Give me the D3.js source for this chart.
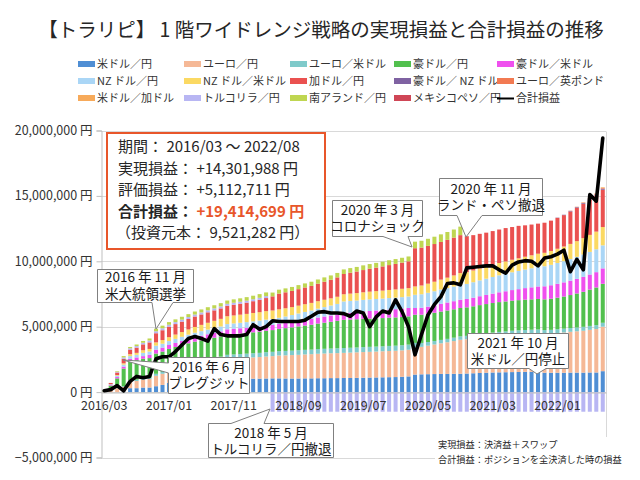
<!DOCTYPE html>
<html><head><meta charset="utf-8">
<script src="https://cdn.jsdelivr.net/npm/d3@7"></script>
<style>
body{margin:0;background:#fff}
svg{display:block}
text{font-family:"Noto Sans CJK JP","Noto Sans",sans-serif}
</style>
</head><body>
<svg id="chart" width="640" height="480"></svg>
<script>
// ---- DATA (values in 万円 = 10,000 JPY) ----
const UNIT = 10000;
const months = ["2016/03","2016/04","2016/05","2016/06","2016/07","2016/08","2016/09","2016/10","2016/11","2016/12",
"2017/01","2017/02","2017/03","2017/04","2017/05","2017/06","2017/07","2017/08","2017/09","2017/10","2017/11","2017/12",
"2018/01","2018/02","2018/03","2018/04","2018/05","2018/06","2018/07","2018/08","2018/09","2018/10","2018/11","2018/12",
"2019/01","2019/02","2019/03","2019/04","2019/05","2019/06","2019/07","2019/08","2019/09","2019/10","2019/11","2019/12",
"2020/01","2020/02","2020/03","2020/04","2020/05","2020/06","2020/07","2020/08","2020/09","2020/10","2020/11","2020/12",
"2021/01","2021/02","2021/03","2021/04","2021/05","2021/06","2021/07","2021/08","2021/09","2021/10","2021/11","2021/12",
"2022/01","2022/02","2022/03","2022/04","2022/05","2022/06","2022/07","2022/08"];
const xTickLabels = ["2016/03","2017/01","2017/11","2018/09","2019/07","2020/05","2021/03","2022/01"];
const yTickValues = [-5000000, 0, 5000000, 10000000, 15000000, 20000000];

const usdJpy = [0,0,0,5,30,30,35,35,45,55, 70,75,80,85,90,92,95,98,100,105, 105,104,104,103,103,104,105,105,104,104,
 104,105,105,106,106,107,107,108,108,109, 110,111,112,113,114,115,117,120,134,136, 137,138,139,139,140,140,142,144,146,148,
 150,151,152,153,154,155,155,155,148,148, 148,148,149,149,149,150,150,160];
const eurJpy = [5,20,30,35,50,55,60,65,80,85, 90,98,105,112,118,124,130,136,143,150, 153,156,159,162,165,168,170,175,177,179,
 181,183,185,187,189,190,191,192,194,195, 196,197,198,199,200,201,202,204,203,210, 218,226,234,242,250,260,262,266,270,274,
 278,282,285,288,290,292,294,296,298,300, 304,308,312,316,320,326,332,340];
const eurUsd = [0,0,5,5,10,10,10,10,15,15, 15,17,19,21,23,25,26,27,28,30, 30,31,31,32,32,33,33,33,34,34,
 35,35,35,36,36,36,37,37,37,37, 38,38,38,38,39,39,39,39,39,30, 28,27,26,26,26,26,26,26,27,27,
 27,27,27,28,28,28,28,28,28,28, 29,29,29,29,30,30,30,30];
const audJpy = [5,30,70,135,145,150,150,150,155,155, 155,155,155,155,155,155,155,155,155,155, 156,157,158,160,162,164,166,170,174,178,
 182,186,190,195,200,205,210,216,216,216, 216,216,216,216,216,216,216,216,216,216, 216,216,217,217,217,217,218,220,222,224,
 226,228,229,230,231,232,232,233,235,238, 241,246,252,260,268,278,288,298];
const audUsd = [0,5,10,15,20,20,20,25,30,30, 30,31,32,33,34,35,36,37,38,40, 40,40,40,40,40,40,40,40,41,42,
 43,44,45,46,47,48,49,50,52,54, 56,58,60,61,62,63,64,64,51,53, 55,57,59,61,62,63,64,66,68,70,
 72,75,78,81,84,88,92,96,100,103, 106,108,110,112,114,115,117,118];
const nzdJpy = [0,5,10,15,20,20,25,25,30,30, 30,31,32,33,34,35,36,37,38,40, 41,42,43,44,45,45,45,45,48,52,
 56,60,64,68,72,76,80,90,90,89, 89,89,88,88,88,88,88,88,101,103, 105,107,109,110,112,114,115,118,121,124,
 127,130,133,136,139,142,146,150,153,156, 159,162,165,168,171,173,175,176];
const nzdUsd = [0,0,5,10,15,15,20,20,25,28, 30,33,36,40,44,48,52,55,58,60, 61,62,63,64,64,65,65,65,63,61,
 60,59,58,57,56,55,55,55,56,57, 58,59,60,61,62,63,64,64,64,67, 70,73,76,80,85,90,90,90,91,92,
 93,94,95,96,97,98,99,100,103,106, 109,112,116,120,125,130,135,140];
const cadJpy = [0,10,20,35,35,40,45,50,70,75, 80,80,80,80,80,80,80,80,80,80, 82,84,86,90,95,100,108,120,122,124,
 126,128,130,134,138,142,148,155,160,165, 170,175,180,185,190,195,200,205,292,290, 289,288,288,289,289,290,275,270,265,260,
 258,256,255,250,248,240,235,230,230,232, 236,240,248,255,262,270,275,285];
const audNzd = [0,0,0,0,0,0,0,0,0,0, 0,0,0,0,0,0,0,0,0,0, 0,0,0,0,0,0,0,0,0,0,
 0,0,0,0,0,0,0,0,0,0, 0,0,0,0,0,0,0,0,0,0, 0,0,0,0,0,0,0,0,0,0,
 0,0,0,0,0,0,0,0,0,0, 2,3,4,5,6,6,7,8];
const eurGbp = [0,0,0,0,0,0,0,0,0,0, 0,0,0,0,0,0,0,0,0,0, 0,0,0,0,0,0,0,0,0,0,
 0,0,0,0,0,0,0,0,0,0, 0,0,0,0,0,0,0,0,0,0, 0,0,0,0,0,0,0,0,0,0,
 0,0,0,0,0,0,0,0,0,0, 0,0,2,3,4,5,5,6];
const usdCad = [0,0,0,0,0,0,0,0,0,0, 0,0,0,0,0,0,0,0,0,0, 0,0,0,0,0,0,0,0,0,0,
 0,0,0,0,0,0,0,0,0,0, 0,0,0,0,0,0,0,0,0,0, 0,0,0,0,0,0,0,0,0,0,
 0,0,0,0,0,0,0,0,0,0, 0,0,0,0,2,3,4,5];
const tryJpy = [0,0,5,10,10,12,12,14,15,15, 15,15,15,15,15,15,15,15,15,15, 15,15,15,15,15,15,-150,-150,-150,-150,
 -150,-150,-150,-150,-150,-150,-150,-150,-150,-150, -150,-150,-150,-150,-150,-150,-150,-150,-150,-150, -150,-150,-150,-150,-150,-150,-150,-150,-150,-150,
 -150,-150,-150,-150,-150,-150,-150,-150,-150,-150, -150,-150,-150,-150,-150,-150,-150,-150];
const zarJpy = [0,0,5,10,10,12,14,16,20,20, 20,21,22,22,23,23,24,24,25,25, 26,26,27,27,28,28,29,30,30,30,
 31,31,32,32,33,33,34,35,35,35, 36,36,36,36,37,37,37,37,50,52, 54,56,58,60,62,65,0,0,0,0,
 0,0,0,0,0,0,0,0,0,0, 0,0,0,0,0,0,0,0];
const mxnJpy = [0,0,0,0,0,0,0,0,0,0, 0,0,0,0,0,0,0,0,0,0, 0,0,0,0,0,0,0,0,0,0,
 0,0,0,0,0,0,0,0,0,0, 0,0,0,0,0,0,0,0,0,0, 0,0,0,0,0,0,0,0,0,0,
 0,0,0,0,0,0,0,0,0,0, 0,0,0,0,0,0,0,0];
const totalPL = [10,19,50,10,82,120,110,120,255,270, 270,310,360,410,425,410,390,485,440,430,
 430,430,440,515,480,500,545,540,540,540, 540,550,580,610,615,605,605,600,580,620,
 605,500,575,620,605,705,615,500,285,440, 590,670,730,830,835,820,950,955,960,965,
 965,935,910,970,995,1005,1000,965,1025,1035, 1055,1085,920,1015,935,1510,1460,1941.4699];

const seriesNames = ["米ドル／円","ユーロ／円","ユーロ／米ドル","豪ドル／円","豪ドル／米ドル",
 "NZ ドル／円","NZ ドル／米ドル","加ドル／円","豪ドル／ NZ ドル","ユーロ／英ポンド",
 "米ドル／加ドル","トルコリラ／円","南アランド／円","メキシコペソ／円"];
const seriesValues = [usdJpy,eurJpy,eurUsd,audJpy,audUsd,nzdJpy,nzdUsd,cadJpy,audNzd,eurGbp,usdCad,tryJpy,zarJpy,mxnJpy];
const seriesColors = ["#4f8ed4","#f5b896","#7fcaca","#52c04e","#ef50ee","#aad6f6","#fbd963","#ea5150",
 "#7f62a2","#f27a52","#f7aa5a","#b8b6f3","#bfd651","#cf4656"];
const lineName = "合計損益";

// ---- CHART ----
const svg = d3.select("#chart");
const X0 = 101, X1 = 606, YT = 130.5, YB = 457.5;
const x = d3.scaleBand().domain(months).range([X0, X1]).paddingInner(0.38).paddingOuter(0.19);
const y = d3.scaleLinear().domain([-5000000, 20000000]).range([YB, YT]);

svg.append("rect").attr("width",640).attr("height",480).attr("fill","#fff");

// title
svg.append("text").attr("x",321).attr("y",37).attr("text-anchor","middle")
  .attr("font-size",19.5).attr("fill","#262626")
  .text("【トラリピ】 1 階ワイドレンジ戦略の実現損益と合計損益の推移");

// gridlines
svg.append("g").selectAll("line").data(yTickValues).join("line")
  .attr("x1",X0).attr("x2",X1)
  .attr("y1",d=>Math.round(y(d))+0.5).attr("y2",d=>Math.round(y(d))+0.5)
  .attr("stroke","#d9d9d9");
svg.append("line").attr("x1",X1+0.5).attr("x2",X1+0.5).attr("y1",Math.round(y(20000000))+0.5).attr("y2",Math.round(YB)+0.5).attr("stroke","#d9d9d9");

// stacked bars
const rows = months.map((m,i)=>{
  const r = {month:m};
  seriesNames.forEach((n,k)=>{ r[n] = seriesValues[k][i]*UNIT; });
  return r;
});
const stacked = d3.stack().keys(seriesNames).offset(d3.stackOffsetDiverging)(rows);
const barG = svg.append("g");
stacked.forEach((layer,k)=>{
  barG.append("g").attr("fill",seriesColors[k]).selectAll("rect").data(layer).join("rect")
    .attr("x",d=>x(d.data.month))
    .attr("width",x.bandwidth())
    .attr("y",d=>y(Math.max(d[0],d[1])))
    .attr("height",d=>Math.abs(y(d[0])-y(d[1])));
});

// y axis
const yAxis = d3.axisLeft(y).tickValues(yTickValues).tickSize(5).tickPadding(4)
  .tickFormat(d=>d3.format(",")(d)+" 円");
const yg = svg.append("g").attr("transform",`translate(${X0+0.5},0)`).call(yAxis);
yg.select(".domain").attr("stroke","#bfbfbf");
yg.selectAll(".tick line").attr("stroke","#bfbfbf");
yg.selectAll("text").attr("font-size",12.5).attr("fill","#333").attr("font-family","'Noto Sans CJK JP',sans-serif");

// x axis at zero
const xAxis = d3.axisBottom(x).tickValues(xTickLabels).tickSize(0).tickPadding(9);
const xg = svg.append("g").attr("transform",`translate(0,${Math.round(y(0))+0.5})`).call(xAxis);
xg.select(".domain").attr("stroke","#bfbfbf");
xg.selectAll("text").attr("font-size",12.5).attr("fill","#333").attr("font-family","'Noto Sans CJK JP',sans-serif");

// total line
const line = d3.line().x((d,i)=>x(months[i])+x.bandwidth()/2).y(d=>y(d*UNIT));
svg.append("path").datum(totalPL).attr("d",line).attr("fill","none")
  .attr("stroke","#000").attr("stroke-width",3.6).attr("stroke-linejoin","round").attr("stroke-linecap","round");

// legend
const legCols = [78,184,290,394,497], legRows = [64,81,98];
const legItems = seriesNames.map((n,k)=>({name:n,color:seriesColors[k],type:"bar"})).concat([{name:lineName,color:"#000",type:"line"}]);
const lg = svg.append("g");
legItems.forEach((it,k)=>{
  const cx = legCols[k%5], cy = legRows[Math.floor(k/5)];
  if(it.type==="bar") lg.append("rect").attr("x",cx).attr("y",cy-3).attr("width",17).attr("height",6).attr("fill",it.color);
  else lg.append("line").attr("x1",cx).attr("x2",cx+17).attr("y1",cy+0.5).attr("y2",cy+0.5).attr("stroke","#000").attr("stroke-width",2);
  lg.append("text").attr("x",cx+19).attr("y",cy).attr("dy","0.36em").attr("font-size",11).attr("fill","#333").text(it.name);
});

// info box
const ib = svg.append("g");
ib.append("rect").attr("x",107).attr("y",133).attr("width",218).attr("height",116)
  .attr("fill","#fff").attr("stroke","#e8562a").attr("stroke-width",2);
const infoLines = [
  {label:"期間： ", value:"2016/03 ～ 2022/08", bold:false},
  {label:"実現損益： ", value:"+14,301,988 円", bold:false},
  {label:"評価損益： ", value:"+5,112,711 円", bold:false},
  {label:"合計損益： ", value:"+19,414,699 円", bold:true},
  {label:"（投資元本： ", value:"9,521,282 円）", bold:false}
];
const infoY = [147,168.5,190,211.5,233];
infoLines.forEach((l,k)=>{
  const t = ib.append("text").attr("x",l.label.startsWith("（")?116:118).attr("y",infoY[k]).attr("dy","0.36em")
    .attr("font-size",15).attr("fill","#262626");
  t.append("tspan").attr("font-weight",l.bold?"bold":"normal").text(l.label);
  t.append("tspan").attr("font-weight",l.bold?"bold":"normal").attr("fill",l.bold?"#e8562a":"#262626").text(l.value);
});

// callouts (one text element with two lines each)
function callout(r, side, b1, b2, tip, lines, y0t, fs, lh){
  const [x0,y0,x1,y1] = r;
  let pts;
  if(side==="bottom") pts=[[x0,y0],[x1,y0],[x1,y1],[b2,y1],tip,[b1,y1],[x0,y1]];
  else if(side==="left") pts=[[x0,y0],[x1,y0],[x1,y1],[x0,y1],[x0,b2],tip,[x0,b1]];
  else pts=[[x0,y0],[b1,y0],tip,[b2,y0],[x1,y0],[x1,y1],[x0,y1]];
  const g = svg.append("g");
  g.append("path").attr("d","M"+pts.map(p=>p.join(",")).join("L")+"Z")
    .attr("fill","#fff").attr("stroke","#808080").attr("stroke-width",1);
  const cx = (x0+x1)/2;
  const t = g.append("text").attr("text-anchor","middle").attr("font-size",fs).attr("fill","#1a1a1a");
  lines.forEach((s,k)=>{
    t.append("tspan").attr("x",cx).attr("y",y0t+k*lh).attr("dy","0.35em").text(s);
  });
}
callout([97.5,269.5,193.5,302.5],"bottom",152,173,[156,329],["2016 年 11 月","米大統領選挙"],277.5,13.5,16.5);
callout([168.5,357.5,249.5,393.5],"left",363,373,[123,360],["2016 年 6 月","ブレグジット"],367.5,13.5,16);
callout([208.5,423.5,333.5,457.5],"top",231,264,[270,409],["2018 年 5 月","トルコリラ／円撤退"],433.5,13.5,16);
callout([332.5,200.5,422.5,236.5],"bottom",383,408,[412,247],["2020 年 3 月","コロナショック"],210,13.5,16);
callout([439.5,178.5,542.5,215.5],"bottom",457,482,[466,237],["2020 年 11 月","ランド・ペソ撤退"],189.5,13.5,16);
callout([467.5,333.5,568.5,368.5],"bottom",529,546,[537,374],["2021 年 10 月","米ドル／円停止"],343,13.5,16);

// notes
svg.append("rect").attr("x",435).attr("y",437).attr("width",205).attr("height",33).attr("fill","#fff");
const note = svg.append("text").attr("font-size",9.2).attr("fill","#262626");
note.append("tspan").attr("x",438).attr("y",445).attr("dy","0.36em").text("実現損益：決済益＋スワップ");
note.append("tspan").attr("x",438).attr("y",460).attr("dy","0.36em").text("合計損益：ポジションを全決済した時の損益");
</script>
</body></html>
